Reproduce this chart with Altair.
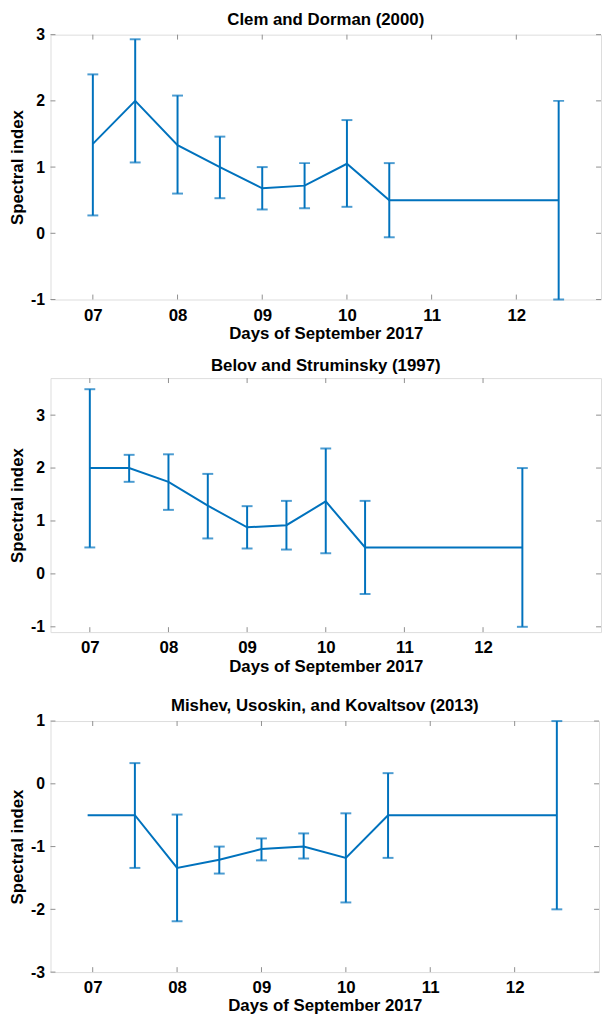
import altair as alt
import pandas as pd

BLUE = "#0072BD"
GRAY = "#8f8f8f"
FONT = "Liberation Sans"

x_ticks = [7, 8, 9, 10, 11, 12]
x_title = "Days of September 2017"
y_title = "Spectral index"

# Panel 1: Clem and Dorman (2000)
title1 = "Clem and Dorman (2000)"
days1 = [7, 7.5, 8, 8.5, 9, 9.5, 10, 10.5, 12.5]
val1 = [1.35, 2.0, 1.33, 1.0, 0.68, 0.72, 1.05, 0.5, 0.5]
lo1 = [0.27, 1.07, 0.6, 0.53, 0.36, 0.38, 0.4, -0.06, -1.0]
hi1 = [2.4, 2.93, 2.08, 1.46, 1.0, 1.06, 1.71, 1.06, 2.0]
y_ticks1 = [-1, 0, 1, 2, 3]

# Panel 2: Belov and Struminsky (1997)
title2 = "Belov and Struminsky (1997)"
days2 = [7, 7.5, 8, 8.5, 9, 9.5, 10, 10.5, 12.5]
val2 = [2.0, 2.0, 1.74, 1.29, 0.88, 0.92, 1.37, 0.5, 0.5]
lo2 = [0.5, 1.74, 1.21, 0.67, 0.48, 0.46, 0.39, -0.38, -1.0]
hi2 = [3.49, 2.25, 2.26, 1.89, 1.28, 1.38, 2.37, 1.38, 2.0]
y_ticks2 = [-1, 0, 1, 2, 3]

# Panel 3: Mishev, Usoskin, and Kovaltsov (2013)
title3 = "Mishev, Usoskin, and Kovaltsov (2013)"
days3 = [6.94, 7.5, 8, 8.5, 9, 9.5, 10, 10.5, 12.5]
val3 = [-0.5, -0.5, -1.34, -1.21, -1.04, -1.0, -1.18, -0.5, -0.5]
lo3 = [None, -1.34, -2.19, -1.43, -1.22, -1.19, -1.89, -1.18, -2.0]
hi3 = [None, 0.33, -0.49, -1.0, -0.87, -0.79, -0.47, 0.17, 1.0]
y_ticks3 = [-3, -2, -1, 0, 1]


def panel(title, days, val, lo, hi, xdom, ydom, yticks, w, h, xtp, toff):
    df = pd.DataFrame({"day": days, "val": val, "lo": lo, "hi": hi})
    xt = pd.DataFrame({"t": x_ticks})
    yt = pd.DataFrame({"t": yticks})
    xs = alt.Scale(domain=xdom, nice=False, zero=False)
    ys = alt.Scale(domain=ydom, nice=False, zero=False)
    x = alt.X("day:Q", scale=xs, title=x_title,
              axis=alt.Axis(values=x_ticks, grid=False, domain=False, ticks=False,
                            labelExpr="datum.value < 10 ? '0' + datum.value : '' + datum.value",
                            labelFont=FONT, labelFontWeight="bold", labelColor="black",
                            labelFontSize=17, labelPadding=8, titlePadding=xtp,
                            titleFont=FONT, titleFontWeight="bold", titleColor="black",
                            titleFontSize=17))
    y = alt.Y("val:Q", scale=ys, title=y_title,
              axis=alt.Axis(values=yticks, grid=False, domain=False, ticks=False,
                            labelExpr="'' + datum.value",
                            labelFont=FONT, labelFontWeight="bold", labelColor="black",
                            labelFontSize=16, labelPadding=6, titlePadding=4,
                            titleFont=FONT, titleFontWeight="bold", titleColor="black",
                            titleFontSize=17))
    base = alt.Chart(df)
    line = base.mark_line(color=BLUE, strokeWidth=2).encode(x=x, y=y)
    valid = base.transform_filter("isValid(datum.lo)")
    bars = valid.mark_rule(color=BLUE, strokeWidth=2).encode(
        x="day:Q", y="lo:Q", y2="hi:Q")
    cap_lo = valid.mark_tick(orient="horizontal", size=11, thickness=2, color=BLUE).encode(
        x="day:Q", y="lo:Q")
    cap_hi = valid.mark_tick(orient="horizontal", size=11, thickness=2, color=BLUE).encode(
        x="day:Q", y="hi:Q")
    xb = alt.Chart(xt).mark_rule(color=GRAY, strokeWidth=1).encode(
        x="t:Q", y=alt.value(h), y2=alt.value(h - 5))
    xtop = alt.Chart(xt).mark_rule(color=GRAY, strokeWidth=1).encode(
        x="t:Q", y=alt.value(0), y2=alt.value(5))
    yl = alt.Chart(yt).mark_rule(color=GRAY, strokeWidth=1).encode(
        y="t:Q", x=alt.value(0), x2=alt.value(5))
    yr = alt.Chart(yt).mark_rule(color=GRAY, strokeWidth=1).encode(
        y="t:Q", x=alt.value(w - 5), x2=alt.value(w))
    return alt.layer(line, bars, cap_lo, cap_hi, xb, xtop, yl, yr).properties(
        width=w, height=h,
        title=alt.TitleParams(title, fontSize=17, font=FONT, fontWeight="bold",
                              offset=toff, color="black"))


p1 = panel(title1, days1, val1, lo1, hi1, [6.5, 13], [-1, 3], y_ticks1, 557, 268, 2, -2)
p2 = panel(title2, days2, val2, lo2, hi2, [6.5, 13.5], [-1.1, 3.7], y_ticks2, 557, 257, 3, 3)
p3 = panel(title3, days3, val3, lo3, hi3, [6.5, 13], [-3, 1], y_ticks3, 555, 254, 2, -2)

chart = alt.vconcat(alt.vconcat(p1, p2, spacing=14.5), p3, spacing=21.5).properties(
    padding={"left": 0, "top": -4, "right": 0, "bottom": 0}
).configure_view(stroke=GRAY, strokeWidth=1).configure(background="white")

chart.save("out.html", embed_options={"renderer": "svg", "actions": False})
